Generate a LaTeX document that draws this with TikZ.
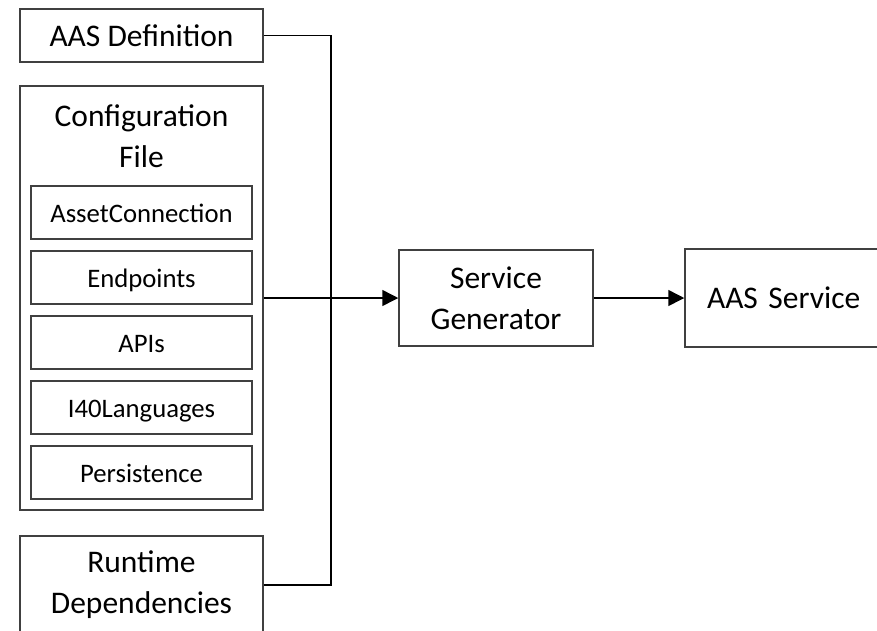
\documentclass[tikz,border=0pt]{standalone}
\usepackage{fontspec}
\setmainfont{Carlito}
\usepackage{tikz}
\usetikzlibrary{arrows.meta,positioning}
\definecolor{boxline}{RGB}{64,64,64}

\begin{document}
\begin{tikzpicture}[
  x=1pt,y=-1pt,
  font=\fontsize{31.5}{41}\selectfont,
  outer/.style={draw=boxline,line width=1.5pt,minimum width=243pt,align=center,inner sep=0pt},
  inner/.style={draw=boxline,line width=1.5pt,minimum width=221pt,minimum height=53pt,
                font=\fontsize{26.7}{32}\selectfont,inner sep=0pt,text height=22pt,text depth=3pt},
  proc/.style={draw=boxline,line width=1.5pt,align=center,inner sep=0pt},
  arr/.style={-{Triangle[length=16pt,width=16pt]},line width=1.5pt},
  link/.style={line width=1.5pt},
]
\useasboundingbox (0,0) rectangle (877,630);
\clip (0,0) rectangle (877,630);
% Inputs
\node[outer,minimum height=53pt] (def) at (141.5,35.5) {AAS Definition};
\node[outer,minimum height=424pt] (cfg) at (141.5,298) {};
\node[align=center] (cfgtitle) at (141.5,136) {Configuration\\File};
\node[inner] (asset) at (141.5,212.5) {AssetConnection};
\node[inner,below=10.5pt of asset] (endp) {Endpoints};
\node[inner,below=10.5pt of endp] (apis) {APIs};
\node[inner,below=10.5pt of apis] (lang) {I40Languages};
\node[inner,below=10.5pt of lang] (pers) {Persistence};
\node[outer,minimum height=98pt] (rt) at (141.5,585) {Runtime\\Dependencies};
% Generator and result
\node[proc,minimum width=194pt,minimum height=96pt] (gen) at (496,298) {Service\\Generator};
\node[proc,minimum width=200pt,minimum height=98pt,text width=200pt,align=left] (svc) at (785,298) {\hspace{22pt}AAS Service};
% connectors
\coordinate (bus) at (331,298);
\draw[link] (def.east) -| (bus) |- (rt.east);
\draw[arr] (cfg.east) -- (gen.west);
\draw[arr] (gen.east) -- (svc.west);
\end{tikzpicture}
\end{document}
